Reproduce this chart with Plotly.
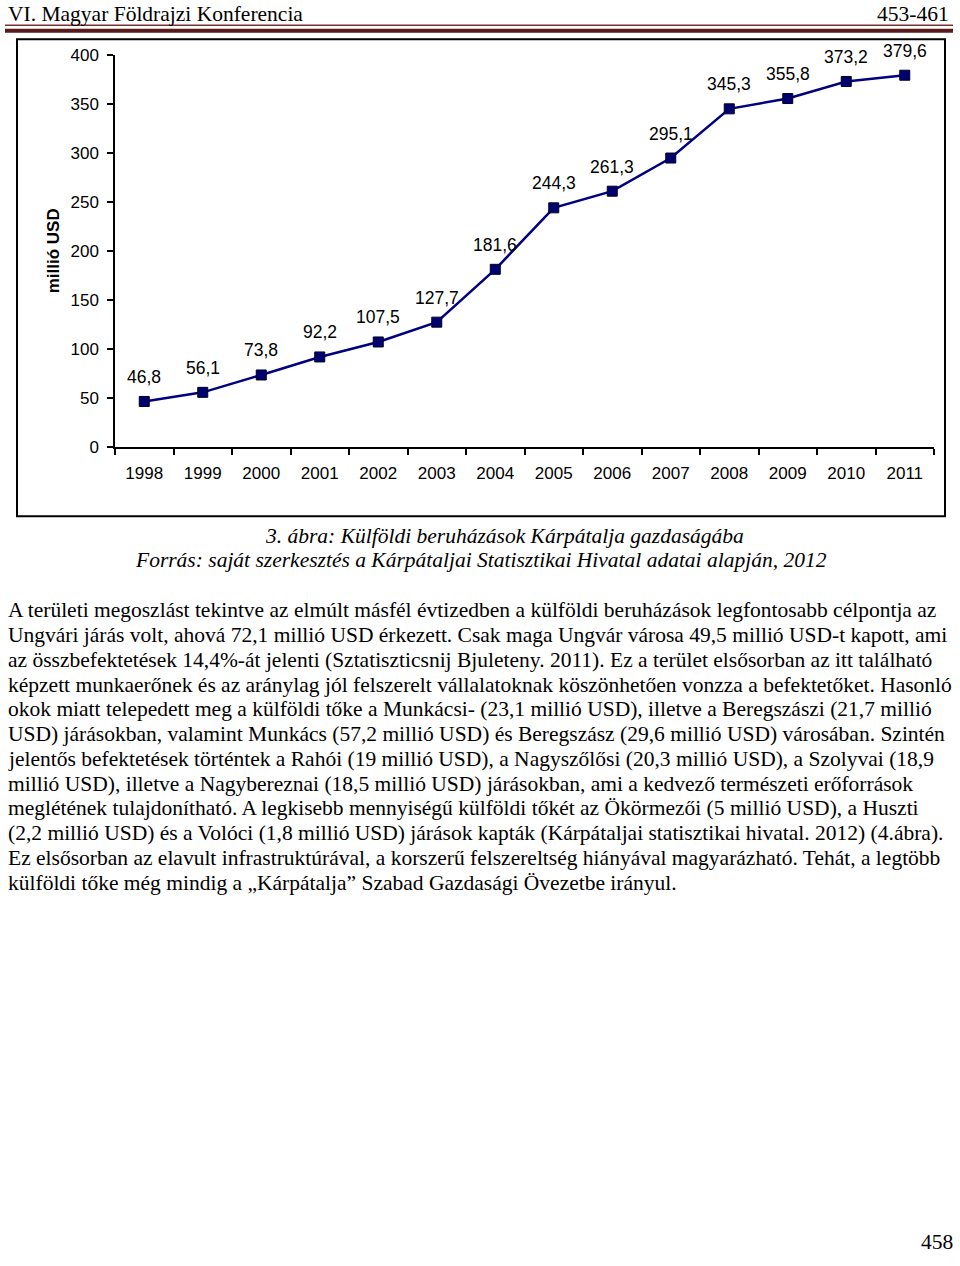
import plotly.graph_objects as go

W, H = 960, 1266

years = ["1998", "1999", "2000", "2001", "2002", "2003", "2004",
         "2005", "2006", "2007", "2008", "2009", "2010", "2011"]
values = [46.8, 56.1, 73.8, 92.2, 107.5, 127.7, 181.6,
          244.3, 261.3, 295.1, 345.3, 355.8, 373.2, 379.6]
value_labels = ["46,8", "56,1", "73,8", "92,2", "107,5", "127,7", "181,6",
                "244,3", "261,3", "295,1", "345,3", "355,8", "373,2", "379,6"]
y_ticks = [0, 50, 100, 150, 200, 250, 300, 350, 400]

header_left = "VI. Magyar Földrajzi Konferencia"
header_right = "453-461"
caption_1 = "3. ábra: Külföldi beruházások Kárpátalja gazdaságába"
caption_2 = "Forrás: saját szerkesztés a Kárpátaljai Statisztikai Hivatal adatai alapján, 2012"
body_lines = [
    "A területi megoszlást tekintve az elmúlt másfél évtizedben a külföldi beruházások legfontosabb célpontja az",
    "Ungvári járás volt, ahová 72,1 millió USD érkezett. Csak maga Ungvár városa 49,5 millió USD-t kapott, ami",
    "az összbefektetések 14,4%-át jelenti (Sztatiszticsnij Bjuleteny. 2011). Ez a terület elsősorban az itt található",
    "képzett munkaerőnek és az aránylag jól felszerelt vállalatoknak köszönhetően vonzza a befektetőket. Hasonló",
    "okok miatt telepedett meg a külföldi tőke a Munkácsi- (23,1 millió USD), illetve a Beregszászi (21,7 millió",
    "USD) járásokban, valamint Munkács (57,2 millió USD) és Beregszász (29,6 millió USD) városában. Szintén",
    "jelentős befektetések történtek a Rahói (19 millió USD), a Nagyszőlősi (20,3 millió USD), a Szolyvai (18,9",
    "millió USD), illetve a Nagybereznai (18,5 millió USD) járásokban, ami a kedvező természeti erőforrások",
    "meglétének tulajdonítható. A legkisebb mennyiségű külföldi tőkét az Ökörmezői (5 millió USD), a Huszti",
    "(2,2 millió USD) és a Volóci (1,8 millió USD) járások kapták (Kárpátaljai statisztikai hivatal. 2012) (4.ábra).",
    "Ez elsősorban az elavult infrastruktúrával, a korszerű felszereltség hiányával magyarázható. Tehát, a legtöbb",
    "külföldi tőke még mindig a „Kárpátalja” Szabad Gazdasági Övezetbe irányul.",
]
page_number = "458"

# vertical mapping of the capture: shown_y = VS * page_y + VB
VS, VB = 0.9847, 8.8


def px(x):
    return x / W


def py(y):
    return 1 - ((y - VB) / VS) / H


SANS = "Liberation Sans, Arial, sans-serif"
SERIF = "Liberation Serif, Times New Roman, serif"

fig = go.Figure()
fig.add_trace(go.Scatter(
    x=years, y=values, mode="lines+markers",
    line=dict(color="#000080", width=2.5),
    marker=dict(symbol="square", size=10, color="#000070",
                line=dict(color="#000020", width=1)),
    hoverinfo="skip", showlegend=False,
))

annotations = []
for i, (v, lab) in enumerate(zip(values, value_labels)):
    annotations.append(dict(x=i, y=v, xref="x", yref="y", text=lab,
                            showarrow=False, yshift=24.5,
                            font=dict(family=SANS, size=17.5, color="black")))

annotations.append(dict(x=px(53), y=py(251), xref="paper", yref="paper",
                        xanchor="center", yanchor="middle",
                        text="<b>millió USD</b>", textangle=-90, showarrow=False,
                        font=dict(family=SANS, size=17, color="black")))

annotations.append(dict(x=px(6), y=py(14), xref="paper", yref="paper",
                        xanchor="left", yanchor="middle", text=header_left,
                        showarrow=False, font=dict(family=SERIF, size=21.5, color="black")))
annotations.append(dict(x=px(951), y=py(14), xref="paper", yref="paper",
                        xanchor="right", yanchor="middle", text=header_right,
                        showarrow=False, font=dict(family=SERIF, size=21.5, color="black")))

annotations.append(dict(x=px(505), y=py(536), xref="paper", yref="paper",
                        xanchor="center", yanchor="middle", text="<i>" + caption_1 + "</i>",
                        showarrow=False, font=dict(family=SERIF, size=21.5, color="black")))
annotations.append(dict(x=px(481), y=py(560), xref="paper", yref="paper",
                        xanchor="center", yanchor="middle", text="<i>" + caption_2 + "</i>",
                        showarrow=False, font=dict(family=SERIF, size=21.5, color="black")))

for i, line in enumerate(body_lines):
    annotations.append(dict(x=px(6), y=py(610 + i * 24.75), xref="paper", yref="paper",
                            xanchor="left", yanchor="middle", text=line,
                            showarrow=False, font=dict(family=SERIF, size=21.5, color="black")))

annotations.append(dict(x=px(955), y=0, xref="paper", yref="paper",
                        xanchor="right", yanchor="bottom", text=page_number,
                        showarrow=False, font=dict(family=SERIF, size=21.5, color="black")))

shapes = [
    dict(type="line", xref="paper", yref="paper", x0=px(5), x1=px(953),
         y0=py(25), y1=py(25), line=dict(color="#7a3030", width=1.5)),
    dict(type="rect", xref="paper", yref="paper", x0=px(5), x1=px(953),
         y0=py(28.5), y1=py(32.5), fillcolor="#5a1a1a", line=dict(width=0)),
    dict(type="rect", xref="paper", yref="paper", x0=px(17), x1=px(945),
         y0=py(39), y1=py(516), line=dict(color="black", width=2)),
]

fig.update_layout(
    width=W, height=H,
    margin=dict(l=0, r=0, t=0, b=0),
    paper_bgcolor="white", plot_bgcolor="white",
    annotations=annotations, shapes=shapes,
    xaxis=dict(domain=[px(115), px(934)], type="category",
               range=[-0.5, 13.5], showgrid=False, zeroline=False,
               showline=True, linecolor="black", linewidth=1.5,
               ticks="outside", tickson="boundaries", ticklen=6,
               tickcolor="black", tickwidth=1.5, ticklabelstandoff=10,
               tickfont=dict(family=SANS, size=17, color="black")),
    yaxis=dict(domain=[py(447), py(55)], range=[0, 400],
               tickvals=y_ticks, showgrid=False, zeroline=False,
               showline=True, linecolor="black", linewidth=1.5,
               ticks="outside", ticklen=6, tickcolor="black", tickwidth=1.5,
               ticklabelstandoff=5,
               tickfont=dict(family=SANS, size=17, color="black")),
)

page_css = ("document.documentElement.style.margin='0';"
            "document.documentElement.style.overflow='hidden';"
            "document.body.style.margin='0';"
            "document.body.style.overflow='hidden';")

fig.write_html("out.html", post_script=page_css,
               config={"displayModeBar": False})
